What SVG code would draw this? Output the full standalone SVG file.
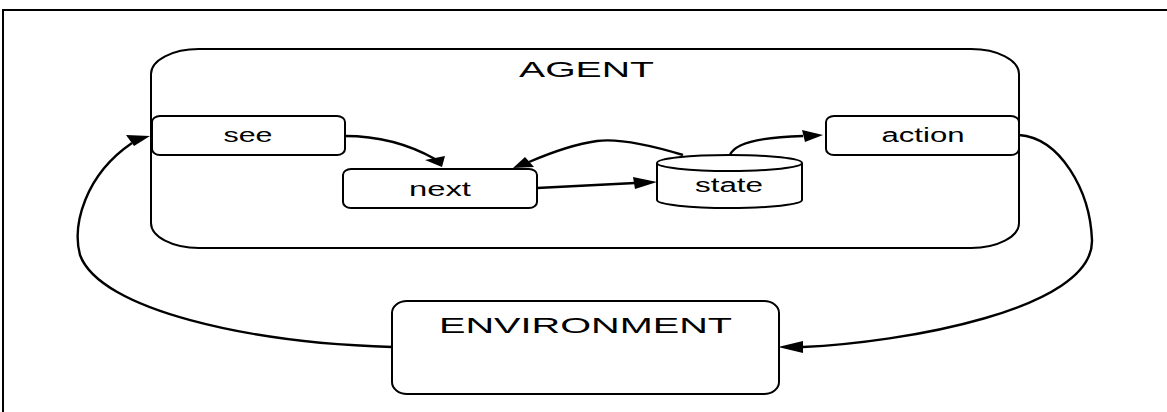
<svg xmlns="http://www.w3.org/2000/svg" width="1167" height="412" viewBox="0 0 1167 412">
<style>
.box{fill:#fff;stroke:#000;stroke-width:2}
.lbl{font-family:"Liberation Sans",Arial,sans-serif;font-size:20px;fill:#000;text-anchor:middle}
.big{font-family:"Liberation Sans",Arial,sans-serif;font-size:22px;fill:#000;text-anchor:middle}
.edge{fill:none;stroke:#000;stroke-width:2.4}
.head{fill:#000;stroke:none}
</style>
<rect width="1167" height="412" fill="#fff"/>
<path d="M3,412 V10 H1167" fill="none" stroke="#000" stroke-width="2"/>
<g id="agent">
<path class="box" d="M199,49 H971 A48,25 0 0 1 1019,74 V223 A48,25 0 0 1 971,248 H199 A48,25 0 0 1 151,223 V74 A48,25 0 0 1 199,49 Z"/>
<text class="big" x="586.5" y="77" textLength="135" lengthAdjust="spacingAndGlyphs">AGENT</text>
</g>
<g id="see">
<rect class="box" x="152" y="116" width="193" height="39" rx="8" ry="6"/>
<text class="lbl" x="248" y="142" textLength="49" lengthAdjust="spacingAndGlyphs">see</text>
</g>
<g id="next">
<rect class="box" x="343" y="169" width="194" height="39" rx="8" ry="6"/>
<text class="lbl" x="440" y="196" textLength="62" lengthAdjust="spacingAndGlyphs">next</text>
</g>
<g id="state">
<path class="box" d="M657,163 A72.5,8 0 0 1 802,163 V200 A72.5,8 0 0 1 657,200 Z"/>
<path class="box" d="M657,163 A72.5,8 0 0 0 802,163" fill="none"/>
<text class="lbl" x="729" y="192" textLength="68" lengthAdjust="spacingAndGlyphs">state</text>
</g>
<g id="action">
<rect class="box" x="826" y="116" width="193" height="39" rx="8" ry="6"/>
<text class="lbl" x="923" y="142" textLength="83" lengthAdjust="spacingAndGlyphs">action</text>
</g>
<g id="environment">
<rect class="box" x="392" y="301" width="387" height="93" rx="15" ry="12"/>
<text class="big" x="585.5" y="333" textLength="293" lengthAdjust="spacingAndGlyphs">ENVIRONMENT</text>
</g>
<g id="connectors">
<path class="edge" d="M392,347 C250,343 100,310 80,255 C72,225 85,175 132,143"/>
<polygon class="head" points="150,136 126,135 134,146"/>
<path class="edge" d="M345,136 C380,136 410,145 435,159"/>
<polygon class="head" points="442,167 425,160 445,156"/>
<path class="edge" d="M537,188 L635,183"/>
<polygon class="head" points="657,182 633,177 635,189"/>
<path class="edge" d="M683,155 C650,145 620,138 597,141 C575,144 550,153 529,162"/>
<polygon class="head" points="513,168 525,157 534,167"/>
<path class="edge" d="M730,155 C735,142 765,137 803,136"/>
<polygon class="head" points="823,135 802,130 805,142"/>
<path class="edge" d="M1019,135 C1060,138 1090,190 1092,240 C1094,310 900,343 803,347"/>
<polygon class="head" points="778,347 803,341 803,353"/>
</g>
</svg>
